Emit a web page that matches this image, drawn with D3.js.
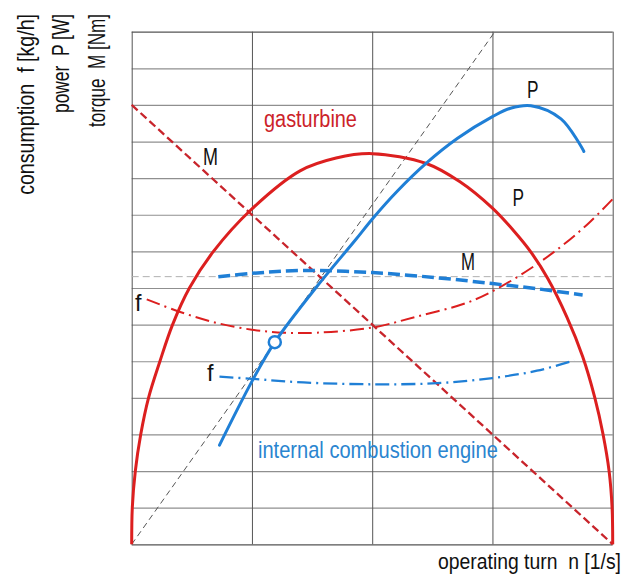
<!DOCTYPE html>
<html><head><meta charset="utf-8">
<script src="https://cdn.jsdelivr.net/npm/d3@7"></script>
<style>body{margin:0;background:#fff}svg{display:block}text{font-family:"Liberation Sans",Arial,sans-serif;white-space:pre}</style>
</head><body>
<script>
// grid: x in columns 0..4, y in rows 0..14
const xTicks = [0,1,2,3,4];
const yTicks = d3.range(0,15);
const refLevel = 7.31;
const diagonal = [[0,0],[3.02,14]];

const gasP = [[0,0],[0.005,1],[0.03,2],[0.075,3],[0.14,4],[0.235,5],[0.34,6],[0.48,7],[0.68,8],[0.99,9.13],[1.4,10.2],[1.7,10.55],[2.0,10.67],[2.45,10.4],[2.73,9.9],[3.0,9.18],[3.18,8.55],[3.32,7.98],[3.46,7.26],[3.62,6.2],[3.75,5.13],[3.85,4.02],[3.92,3.0],[3.97,2.0],[3.995,1.0],[4.0,0]];
const gasM = [[0,12],[4,0]];
const gasF = [[0.125,6.69],[0.39,6.36],[0.69,6.06],[1.0,5.86],[1.26,5.78],[1.54,5.78],[2.0,5.92],[2.37,6.22],[2.79,6.6],[3.05,7.0],[3.32,7.54],[3.57,8.13],[3.8,8.77],[4.0,9.43]];
const iceP = [[0.73,2.71],[1.0,4.45],[1.19,5.52],[1.54,7.04],[1.86,8.31],[2.01,8.92],[2.21,9.65],[2.45,10.41],[2.71,11.09],[3.0,11.68],[3.15,11.91],[3.32,11.98],[3.57,11.62],[3.76,10.73]];
const iceM = [[0.72,7.31],[1.0,7.4],[1.43,7.48],[2.0,7.42],[2.54,7.28],[3.0,7.12],[3.37,6.98],[3.75,6.81]];
const iceF = [[0.73,4.58],[1.0,4.52],[1.43,4.42],[2.0,4.37],[2.54,4.4],[3.0,4.54],[3.37,4.74],[3.68,5.02]];
const iceMarker = [1.19,5.52];

const W=627,H=577;
const svg=d3.select("body").append("svg").attr("width",W).attr("height",H);
const x=d3.scaleLinear([0,4],[131.7,612.7]);
const y=d3.scaleLinear([0,14],[544.3,31.7]);

// horizontal grid
svg.append("g").attr("transform",`translate(${x(0)},0)`)
  .call(d3.axisLeft(y).tickValues(yTicks).tickSize(-(x(4)-x(0))).tickFormat(""))
  .call(g=>g.select(".domain").remove())
  .call(g=>g.selectAll(".tick line").attr("stroke",d=>(d===0||d===14)?"#555":"#8f8f8f").attr("stroke-width",1.2));
// vertical grid
svg.append("g").attr("transform",`translate(0,${y(0)})`)
  .call(d3.axisBottom(x).tickValues(xTicks).tickSize(-(y(0)-y(14))).tickFormat(""))
  .call(g=>g.select(".domain").remove())
  .call(g=>g.selectAll(".tick line").attr("stroke","#555").attr("stroke-width",1));

const line=d3.line().x(d=>x(d[0])).y(d=>y(d[1]));
const curve=d3.line().x(d=>x(d[0])).y(d=>y(d[1])).curve(d3.curveCatmullRom.alpha(0.5));

// reference lines
svg.append("path").attr("d",line([[0,refLevel],[4.02,refLevel]])).attr("fill","none").attr("stroke","#b0b0b0").attr("stroke-width",1).attr("stroke-dasharray","7,4");
svg.append("path").attr("d",line(diagonal)).attr("fill","none").attr("stroke","#555").attr("stroke-width",1).attr("stroke-dasharray","6,4");

const red="#dc1f1f", blue="#1f7fd6";
svg.append("path").attr("d",line(gasM)).attr("fill","none").attr("stroke","#c8242b").attr("stroke-width",2.3).attr("stroke-dasharray","8,4");
svg.append("path").attr("d",curve(gasF)).attr("fill","none").attr("stroke",red).attr("stroke-width",2).attr("stroke-dasharray","14,5,2,5");
svg.append("path").attr("d",curve(gasP)).attr("fill","none").attr("stroke",red).attr("stroke-width",3);
svg.append("path").attr("d",curve(iceF)).attr("fill","none").attr("stroke",blue).attr("stroke-width",2.3).attr("stroke-dasharray","14,5,2,5");
svg.append("path").attr("d",curve(iceM)).attr("fill","none").attr("stroke",blue).attr("stroke-width",3.5).attr("stroke-dasharray","12,5");
svg.append("path").attr("d",curve(iceP)).attr("fill","none").attr("stroke",blue).attr("stroke-width",3).attr("stroke-linecap","round");
svg.append("circle").attr("cx",x(iceMarker[0])).attr("cy",y(iceMarker[1])).attr("r",6).attr("fill","#fff").attr("stroke",blue).attr("stroke-width",2.5);

// text drawn at natural width then narrowed with a horizontal scale
function fit(t,tf,len,color,size,anchor){
  const g=svg.append("g");
  const tx=g.append("text").attr("fill",color).attr("font-size",size).attr("text-anchor",anchor||"start").text(t);
  const nat=tx.node().getComputedTextLength();
  g.attr("transform",`${tf} scale(${len/nat},1)`);
}
fit("gasturbine","translate(264,127)",93,"#cc2229",23);
fit("internal combustion engine","translate(258,458)",240,"#2a85d0",23);
fit("M","translate(203,165)",15,"#111",23);
fit("M","translate(461,270)",14,"#111",23);
fit("P","translate(527,98)",11.5,"#111",23);
fit("P","translate(512.5,206)",11.5,"#111",23);
fit("f","translate(135,311)",6.5,"#111",23);
fit("f","translate(207,381)",6.5,"#111",23);
fit("operating turn  n [1/s]","translate(438,569)",183,"#111",22);

fit("consumption  f [kg/h]","translate(34,14) rotate(-90)",181,"#111",23,"end");
fit("power  P [W]","translate(69,14) rotate(-90)",99,"#111",23,"end");
fit("torque  M [Nm]","translate(105,14) rotate(-90)",113,"#111",23,"end");
</script>
</body></html>
